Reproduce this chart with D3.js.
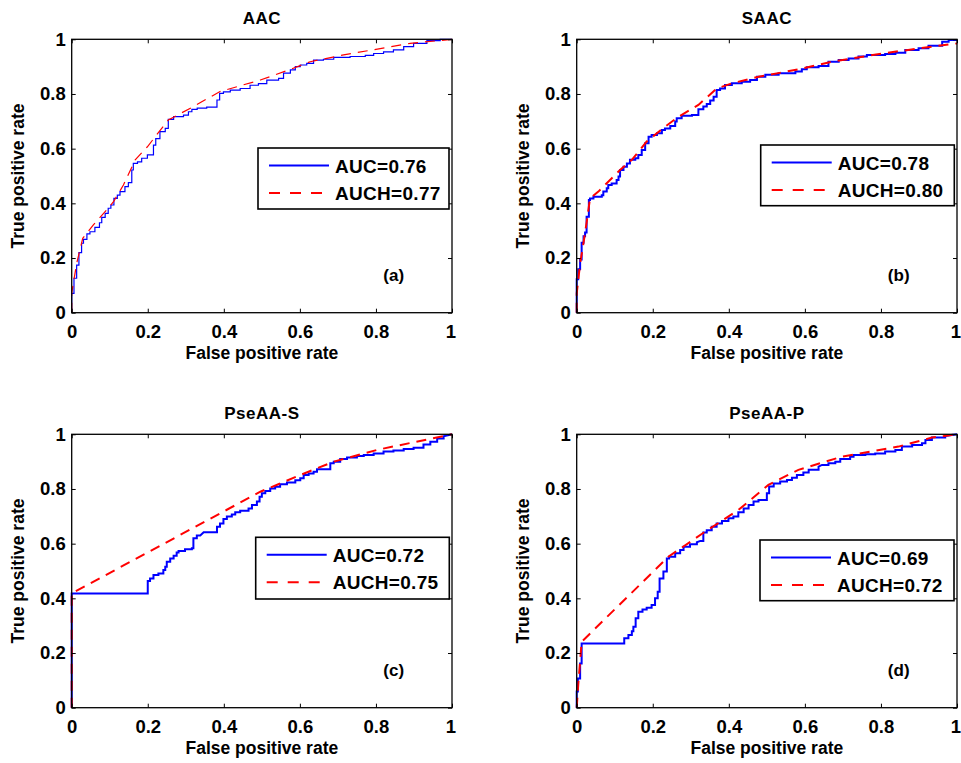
<!DOCTYPE html>
<html>
<head>
<meta charset="utf-8">
<script src="https://cdn.jsdelivr.net/npm/d3@7"></script>
<style>
  html, body { margin: 0; padding: 0; background: #fff; }
  svg text { font-family: "Liberation Sans", Arial, Helvetica, sans-serif; font-weight: bold; fill: #000; }
</style>
</head>
<body>
<svg id="chart" width="961" height="763"></svg>
<script>
// ---------------- data ----------------
const titles = ["AAC", "SAAC", "PseAA-S", "PseAA-P"];
const tags = ["(a)", "(b)", "(c)", "(d)"];
const aucLabels = ["AUC=0.76", "AUC=0.78", "AUC=0.72", "AUC=0.69"];
const auchLabels = ["AUCH=0.77", "AUCH=0.80", "AUCH=0.75", "AUCH=0.72"];
const tickValues = [0, 0.2, 0.4, 0.6, 0.8, 1];
const tickLabels = ["0", "0.2", "0.4", "0.6", "0.8", "1"];
const xLabel = "False positive rate";
const yLabel = "True positive rate";

// ROC curve (a) AAC  [fpr, tpr]
const rocA = [[0,0],[0,0.071],[0.006,0.071],[0.006,0.126],[0.013,0.126],[0.013,0.174],[0.019,0.174],[0.019,0.22],[0.026,0.22],[0.026,0.254],[0.031,0.254],[0.031,0.268],[0.04,0.268],[0.04,0.288],[0.048,0.288],[0.048,0.296],[0.061,0.296],[0.061,0.312],[0.073,0.312],[0.073,0.329],[0.079,0.329],[0.079,0.349],[0.088,0.349],[0.088,0.363],[0.096,0.363],[0.096,0.382],[0.103,0.382],[0.103,0.394],[0.111,0.394],[0.111,0.418],[0.12,0.418],[0.12,0.43],[0.127,0.43],[0.127,0.443],[0.14,0.443],[0.14,0.461],[0.149,0.461],[0.149,0.476],[0.158,0.476],[0.158,0.522],[0.162,0.522],[0.162,0.546],[0.173,0.546],[0.173,0.552],[0.184,0.552],[0.184,0.565],[0.199,0.565],[0.199,0.577],[0.215,0.577],[0.215,0.613],[0.221,0.613],[0.221,0.637],[0.232,0.637],[0.232,0.662],[0.246,0.662],[0.246,0.674],[0.254,0.674],[0.254,0.707],[0.268,0.707],[0.268,0.717],[0.294,0.717],[0.294,0.723],[0.307,0.723],[0.307,0.735],[0.316,0.735],[0.316,0.744],[0.33,0.744],[0.33,0.748],[0.355,0.748],[0.355,0.752],[0.382,0.752],[0.382,0.778],[0.389,0.778],[0.389,0.802],[0.399,0.802],[0.399,0.808],[0.417,0.808],[0.417,0.814],[0.443,0.814],[0.443,0.82],[0.469,0.82],[0.469,0.832],[0.491,0.832],[0.491,0.838],[0.513,0.838],[0.513,0.851],[0.544,0.851],[0.544,0.857],[0.557,0.857],[0.557,0.876],[0.575,0.876],[0.575,0.888],[0.588,0.888],[0.588,0.9],[0.601,0.9],[0.601,0.906],[0.618,0.906],[0.618,0.912],[0.636,0.912],[0.636,0.924],[0.662,0.924],[0.662,0.927],[0.689,0.927],[0.689,0.934],[0.732,0.934],[0.732,0.937],[0.772,0.937],[0.772,0.941],[0.794,0.941],[0.794,0.948],[0.82,0.948],[0.82,0.954],[0.846,0.954],[0.846,0.961],[0.873,0.961],[0.873,0.973],[0.899,0.973],[0.899,0.985],[0.934,0.985],[0.934,0.995],[0.969,0.995],[0.969,1],[1,1]];
const hullA = [[0,0],[0,0.071],[0.013,0.18],[0.029,0.272],[0.057,0.321],[0.092,0.376],[0.11,0.406],[0.136,0.467],[0.167,0.559],[0.199,0.607],[0.254,0.705],[0.316,0.751],[0.39,0.809],[0.496,0.851],[0.575,0.89],[0.627,0.918],[0.715,0.943],[0.89,0.985],[1,1]];

// ROC curve (b) SAAC
const rocB = [[0,0],[0,0.122],[0.004,0.122],[0.004,0.159],[0.009,0.159],[0.009,0.195],[0.013,0.195],[0.013,0.256],[0.018,0.256],[0.018,0.28],[0.022,0.28],[0.022,0.293],[0.026,0.293],[0.026,0.351],[0.032,0.351],[0.032,0.412],[0.035,0.412],[0.035,0.418],[0.044,0.418],[0.044,0.424],[0.066,0.424],[0.066,0.43],[0.07,0.43],[0.07,0.443],[0.079,0.443],[0.079,0.455],[0.083,0.455],[0.083,0.467],[0.092,0.467],[0.092,0.473],[0.105,0.473],[0.105,0.485],[0.11,0.485],[0.11,0.498],[0.114,0.498],[0.114,0.522],[0.123,0.522],[0.123,0.534],[0.132,0.534],[0.132,0.546],[0.14,0.546],[0.14,0.559],[0.154,0.559],[0.154,0.565],[0.162,0.565],[0.162,0.577],[0.171,0.577],[0.171,0.595],[0.18,0.595],[0.18,0.62],[0.189,0.62],[0.189,0.644],[0.197,0.644],[0.197,0.65],[0.211,0.65],[0.211,0.656],[0.224,0.656],[0.224,0.668],[0.232,0.668],[0.232,0.674],[0.246,0.674],[0.246,0.683],[0.259,0.683],[0.259,0.699],[0.263,0.699],[0.263,0.711],[0.276,0.711],[0.276,0.72],[0.303,0.72],[0.303,0.723],[0.32,0.723],[0.32,0.744],[0.333,0.744],[0.333,0.754],[0.342,0.754],[0.342,0.763],[0.351,0.763],[0.351,0.776],[0.36,0.776],[0.36,0.79],[0.368,0.79],[0.368,0.815],[0.377,0.815],[0.377,0.82],[0.39,0.82],[0.39,0.833],[0.408,0.833],[0.408,0.839],[0.434,0.839],[0.434,0.845],[0.456,0.845],[0.456,0.851],[0.474,0.851],[0.474,0.863],[0.496,0.863],[0.496,0.87],[0.531,0.87],[0.531,0.876],[0.575,0.876],[0.575,0.882],[0.592,0.882],[0.592,0.89],[0.605,0.89],[0.605,0.898],[0.636,0.898],[0.636,0.902],[0.662,0.902],[0.662,0.918],[0.689,0.918],[0.689,0.924],[0.715,0.924],[0.715,0.93],[0.741,0.93],[0.741,0.937],[0.763,0.937],[0.763,0.943],[0.811,0.943],[0.811,0.946],[0.838,0.946],[0.838,0.951],[0.864,0.951],[0.864,0.961],[0.899,0.961],[0.899,0.967],[0.925,0.967],[0.925,0.976],[0.961,0.976],[0.961,0.991],[0.978,0.991],[0.978,0.997],[1,0.997]];
const hullB = [[0,0],[0,0.07],[0.009,0.18],[0.018,0.256],[0.026,0.329],[0.035,0.418],[0.057,0.443],[0.083,0.479],[0.114,0.522],[0.145,0.559],[0.184,0.626],[0.232,0.68],[0.268,0.717],[0.32,0.76],[0.368,0.82],[0.408,0.839],[0.478,0.863],[0.583,0.89],[0.671,0.918],[0.803,0.948],[0.934,0.973],[1,0.985]];

// ROC curve (c) PseAA-S
const rocC = [[0,0],[0,0.418],[0.2,0.418],[0.2,0.463],[0.206,0.463],[0.206,0.473],[0.215,0.473],[0.215,0.485],[0.228,0.485],[0.228,0.491],[0.241,0.491],[0.241,0.504],[0.246,0.504],[0.246,0.516],[0.25,0.516],[0.25,0.534],[0.259,0.534],[0.259,0.546],[0.268,0.546],[0.268,0.556],[0.276,0.556],[0.276,0.568],[0.281,0.568],[0.281,0.573],[0.298,0.573],[0.298,0.58],[0.316,0.58],[0.316,0.583],[0.32,0.583],[0.32,0.62],[0.329,0.62],[0.329,0.63],[0.338,0.63],[0.347,0.642],[0.382,0.642],[0.382,0.662],[0.39,0.662],[0.39,0.674],[0.399,0.674],[0.399,0.69],[0.408,0.69],[0.408,0.699],[0.421,0.699],[0.421,0.707],[0.43,0.707],[0.43,0.715],[0.443,0.715],[0.443,0.72],[0.465,0.72],[0.465,0.729],[0.474,0.729],[0.474,0.741],[0.487,0.741],[0.487,0.754],[0.494,0.754],[0.494,0.772],[0.5,0.772],[0.5,0.784],[0.509,0.784],[0.509,0.793],[0.522,0.793],[0.522,0.802],[0.535,0.802],[0.535,0.808],[0.548,0.808],[0.548,0.817],[0.566,0.817],[0.566,0.824],[0.588,0.824],[0.588,0.832],[0.601,0.832],[0.601,0.839],[0.61,0.839],[0.61,0.851],[0.623,0.851],[0.623,0.857],[0.636,0.857],[0.636,0.863],[0.645,0.863],[0.645,0.872],[0.68,0.872],[0.68,0.894],[0.689,0.894],[0.689,0.9],[0.706,0.9],[0.706,0.91],[0.724,0.91],[0.724,0.915],[0.75,0.915],[0.75,0.921],[0.768,0.921],[0.768,0.924],[0.794,0.924],[0.794,0.93],[0.82,0.93],[0.82,0.937],[0.846,0.937],[0.846,0.941],[0.873,0.941],[0.873,0.946],[0.899,0.946],[0.899,0.951],[0.925,0.951],[0.925,0.963],[0.943,0.963],[0.943,0.973],[0.961,0.973],[0.961,0.985],[0.978,0.985],[0.978,0.993],[1,1]];
const hullC = [[0,0],[0,0.418],[0.496,0.79],[0.601,0.851],[0.689,0.9],[0.803,0.943],[1,1]];

// ROC curve (d) PseAA-P
const rocD = [[0,0],[0,0.059],[0.003,0.059],[0.003,0.107],[0.009,0.107],[0.009,0.162],[0.013,0.162],[0.013,0.235],[0.125,0.235],[0.125,0.254],[0.136,0.254],[0.136,0.266],[0.145,0.266],[0.145,0.28],[0.149,0.28],[0.149,0.296],[0.155,0.296],[0.155,0.327],[0.162,0.327],[0.162,0.351],[0.173,0.351],[0.173,0.359],[0.184,0.359],[0.184,0.366],[0.197,0.366],[0.197,0.376],[0.206,0.376],[0.206,0.4],[0.213,0.4],[0.213,0.424],[0.218,0.424],[0.218,0.473],[0.228,0.473],[0.228,0.498],[0.237,0.498],[0.237,0.546],[0.243,0.546],[0.243,0.552],[0.259,0.552],[0.259,0.565],[0.272,0.565],[0.272,0.577],[0.281,0.577],[0.281,0.589],[0.298,0.589],[0.298,0.598],[0.316,0.598],[0.316,0.605],[0.325,0.61],[0.333,0.61],[0.333,0.641],[0.342,0.641],[0.342,0.649],[0.355,0.649],[0.355,0.662],[0.368,0.662],[0.368,0.674],[0.382,0.674],[0.382,0.683],[0.399,0.683],[0.399,0.693],[0.412,0.693],[0.412,0.699],[0.425,0.699],[0.425,0.715],[0.439,0.715],[0.439,0.729],[0.452,0.729],[0.452,0.741],[0.465,0.741],[0.465,0.754],[0.478,0.754],[0.478,0.76],[0.5,0.76],[0.5,0.784],[0.506,0.784],[0.506,0.809],[0.518,0.809],[0.518,0.82],[0.535,0.82],[0.535,0.827],[0.553,0.827],[0.553,0.833],[0.566,0.833],[0.566,0.841],[0.579,0.841],[0.579,0.851],[0.596,0.851],[0.596,0.86],[0.61,0.86],[0.61,0.87],[0.636,0.87],[0.636,0.882],[0.645,0.888],[0.662,0.888],[0.662,0.894],[0.68,0.894],[0.68,0.9],[0.693,0.9],[0.693,0.91],[0.719,0.91],[0.719,0.918],[0.728,0.918],[0.728,0.924],[0.759,0.924],[0.759,0.927],[0.785,0.927],[0.785,0.93],[0.811,0.93],[0.811,0.937],[0.838,0.937],[0.838,0.943],[0.855,0.943],[0.855,0.955],[0.882,0.955],[0.882,0.961],[0.908,0.961],[0.908,0.967],[0.917,0.967],[0.917,0.979],[0.934,0.979],[0.934,0.988],[0.969,0.988],[0.969,0.994],[1,1]];
const hullD = [[0,0],[0.004,0.083],[0.013,0.241],[0.241,0.552],[0.338,0.644],[0.425,0.723],[0.504,0.815],[0.583,0.87],[0.697,0.918],[0.846,0.955],[0.934,0.988],[1,1]];

const rocSeries = [rocA, rocB, rocC, rocD];
const hullSeries = [hullA, hullB, hullC, hullD];

// ---------------- layout (not data) ----------------
const plotW = 380.3, plotH = 273.4;
const origins = [[71.7, 39.3], [576.7, 39.3], [71.7, 434.3], [576.7, 434.3]];
const legendPos = [[186.3, 108.7, 191, 61], [184, 105.7, 193.6, 60.7], [184, 103, 193.6, 61.7], [183.3, 105.7, 194, 60.7]];
const lineWidths = [1.2, 2, 2, 2];

const svg = d3.select("#chart");

const x = d3.scaleLinear().domain([0, 1]).range([0, plotW]);
const y = d3.scaleLinear().domain([0, 1]).range([plotH, 0]);
const fmt = d => tickLabels[tickValues.indexOf(d)];
const line = d3.line().x(d => x(d[0])).y(d => y(d[1]));

for (let i = 0; i < 4; i++) {
  const [ox, oy] = origins[i];
  const g = svg.append("g").attr("transform", `translate(${ox},${oy})`);

  // curves
  g.append("path").datum(rocSeries[i]).attr("d", line)
    .attr("fill", "none").attr("stroke", "#0000ff").attr("stroke-width", lineWidths[i])
    .attr("stroke-linejoin", "miter");
  g.append("path").datum(hullSeries[i]).attr("d", line)
    .attr("fill", "none").attr("stroke", "#ff0000").attr("stroke-width", lineWidths[i])
    .attr("stroke-dasharray", "10,7");

  // axes
  g.append("g").attr("class", "xaxis").attr("transform", `translate(0,${plotH})`)
    .call(d3.axisBottom(x).tickValues(tickValues).tickFormat(fmt).tickSizeInner(-4).tickSizeOuter(0).tickPadding(12));
  g.append("g").attr("class", "yaxis")
    .call(d3.axisLeft(y).tickValues(tickValues).tickFormat(fmt).tickSizeInner(-4).tickSizeOuter(0).tickPadding(6));
  g.append("g").call(d3.axisTop(x).tickValues(tickValues).tickFormat("").tickSizeInner(-4).tickSizeOuter(0));
  g.append("g").attr("transform", `translate(${plotW},0)`)
    .call(d3.axisRight(y).tickValues(tickValues).tickFormat("").tickSizeInner(-4).tickSizeOuter(0));
  g.selectAll(".domain").remove();
  g.selectAll(".tick line").attr("stroke", "#000").attr("stroke-width", 1);
  g.selectAll(".tick text").style("font-size", "18.5px").style("font-weight", "bold").attr("fill", "#000");
  g.selectAll(".xaxis .tick text").filter(d => d === 1).attr("dx", "-1.5");

  g.append("rect").attr("x", 0).attr("y", 0).attr("width", plotW).attr("height", plotH)
    .attr("fill", "none").attr("stroke", "#000").attr("stroke-width", 1.3);

  // titles and labels
  g.append("text").attr("x", plotW / 2).attr("y", -15).attr("text-anchor", "middle")
    .style("font-size", "17px").style("letter-spacing", "0.5px").text(titles[i]);
  g.append("text").attr("x", plotW / 2).attr("y", plotH + 46).attr("text-anchor", "middle")
    .style("font-size", "17.5px").text(xLabel);
  g.append("text").attr("transform", `translate(-47.7,${plotH / 2}) rotate(-90)`)
    .attr("text-anchor", "middle").style("font-size", "17.5px").text(yLabel);
  g.append("text").attr("x", 322).attr("y", 242).attr("text-anchor", "middle")
    .style("font-size", "17px").text(tags[i]);

  // legend
  const [lx, ly, lw, lh] = legendPos[i];
  const lg = g.append("g").attr("transform", `translate(${lx},${ly})`);
  lg.append("rect").attr("width", lw).attr("height", lh).attr("fill", "#fff")
    .attr("stroke", "#000").attr("stroke-width", 1.6);
  lg.append("line").attr("x1", 11).attr("x2", 71).attr("y1", 17.5).attr("y2", 17.5)
    .attr("stroke", "#0000ff").attr("stroke-width", 2);
  lg.append("line").attr("x1", 11).attr("x2", 71).attr("y1", 45).attr("y2", 45)
    .attr("stroke", "#ff0000").attr("stroke-width", 2).attr("stroke-dasharray", "11,10");
  lg.append("text").attr("x", 77).attr("y", 24.5).style("font-size", "19px").style("letter-spacing", "0.3px").text(aucLabels[i]);
  lg.append("text").attr("x", 77).attr("y", 52).style("font-size", "19px").style("letter-spacing", "0.3px").text(auchLabels[i]);
}
</script>
</body>
</html>
